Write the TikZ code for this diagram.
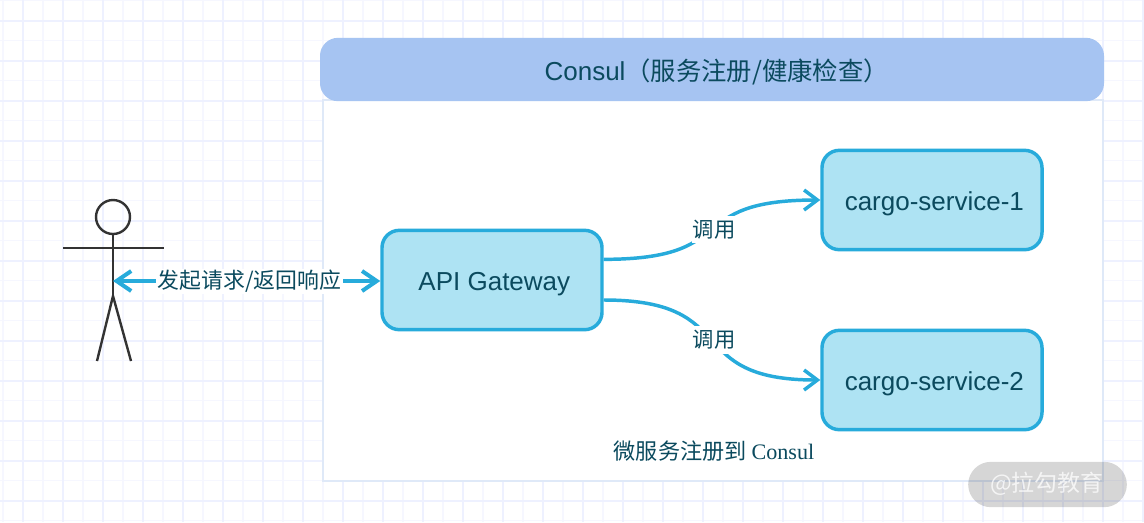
\documentclass[tikz,border=0pt]{standalone}
\usepackage{fontspec}
\setmainfont{Liberation Sans}
\newfontfamily\cjk{Noto Sans CJK SC}
\newfontfamily\lserif{Liberation Serif}
\usetikzlibrary{arrows.meta,positioning,calc}
\definecolor{gridmajor}{HTML}{EEF1FF}
\definecolor{gridminor}{HTML}{F6F7FF}
\definecolor{headfill}{HTML}{A6C4F2}
\definecolor{boxline}{HTML}{DFE9F8}
\definecolor{svcfill}{HTML}{AEE3F3}
\definecolor{svcline}{HTML}{27ABDB}
\definecolor{ink}{HTML}{0B4A5E}
\definecolor{actorc}{HTML}{333333}
\newcommand{\svctxt}[1]{\hspace*{3.5pt}\raisebox{-7.5pt}[0pt][0pt]{#1}}
\tikzset{
  x=0.75pt,y=-0.75pt,
  svc/.style={draw=svcline,fill=svcfill,line width=2.6pt,rounded corners=13pt,minimum width=165pt,minimum height=74.5pt,inner sep=0pt,text=ink,font=\fontsize{19.5}{22}\selectfont},
  head/.style={fill=headfill,rounded corners=13.5pt,minimum width=588pt,minimum height=47.5pt,inner sep=0pt,text=ink,font=\fontsize{19.5}{22}\selectfont},
  lbl/.style={fill=white,inner xsep=0.5pt,inner ysep=3pt,text=ink,font=\fontsize{16}{18}\selectfont\cjk},
  plain/.style={text=ink,font=\fontsize{16.6}{18}\selectfont\cjk,inner sep=0pt},
  link/.style={draw=svcline,line width=2.6pt,-{Straight Barb[length=10pt,width=15pt,line width=2.6pt]}},
  biglink/.style={draw=svcline,line width=3pt,{Straight Barb[length=11pt,width=15pt,line width=3pt]}-{Straight Barb[length=11pt,width=15pt,line width=3pt]}},
  figure/.style={draw=actorc,line width=1.8pt},
  pill/.style={fill=black,fill opacity=.16,rounded corners=17pt,minimum width=119pt,minimum height=34pt,inner sep=0pt},
}
\begin{document}
\begin{tikzpicture}
\useasboundingbox (0,0) rectangle (1144,522);
\fill[white] (0,0) rectangle (1144,522);
% grid
\foreach \g in {3,43,...,1143} \draw[gridminor,line width=1pt] (\g,0) -- (\g,522);
\foreach \g in {0.7,40.7,...,521} \draw[gridminor,line width=1pt] (0,\g) -- (1144,\g);
\foreach \g in {23,63,...,1143} \draw[gridmajor,line width=1.3pt] (\g,0) -- (\g,522);
\foreach \g in {20.7,60.7,...,521} \draw[gridmajor,line width=1.3pt] (0,\g) -- (1144,\g);
% container
\draw[boxline,fill=white,line width=1.5pt] (323,100) rectangle (1103,481);
\node[head] (hdr) at (712,69.5) {\hspace*{7pt}\raisebox{-8pt}[0pt][0pt]{Consul{\fontsize{19}{22}\selectfont\cjk（服务注册/健康检查）}}};
% actor
\node[draw=actorc,line width=1.8pt,circle,minimum size=25.5pt,inner sep=0pt] (hd) at (113,217) {};
\coordinate (hip) at (113,296);
\coordinate (armL) at (63,248);
\coordinate (armR) at (164,248);
\coordinate (footL) at (97,361);
\coordinate (footR) at (131,361);
\coordinate (chest) at (113,281);
\draw[figure] (hd.south) -- (hip);
\draw[figure] (armL) -- (armR);
\draw[figure] (footL) -- (hip) -- (footR);
% services
\node[svc] (api) at (492,280) {\svctxt{API Gateway}};
\node[svc] (one) at (932,200) {\svctxt{cargo-service-1}};
\node[svc] (two) at (932,380) {\svctxt{cargo-service-2}};
% connectors
\draw[biglink] (chest) -- ([yshift=-0.75pt]api.west) node[pos=.5,lbl,inner xsep=1.5pt,inner ysep=1pt,xshift=2pt,yshift=-0.5pt,font=\fontsize{16.4}{18}\selectfont\cjk] {发起请求/返回响应};
\draw[link] ([yshift=15.5pt]api.east) .. controls +(105pt,0pt) and ($(one.west)+(-105pt,0pt)$) .. (one.west)
  node[pos=.5,lbl,xshift=1.5pt] {调用};
\draw[link] ([yshift=-15pt]api.east) .. controls +(105pt,0pt) and ($(two.west)+(-105pt,0pt)$) .. (two.west)
  node[pos=.5,lbl,xshift=1.5pt] {调用};
\node[plain] (note) at (714,451) {微服务注册到 {\lserif Consul}};
% watermark
\node[pill] (mark) at (1047.5,484.5) {};
\node[text=white,text opacity=.75,inner sep=0pt,font=\fontsize{17.2}{20}\selectfont\cjk] (marktext) at (1047,484) {@拉勾教育};
\end{tikzpicture}
\end{document}
